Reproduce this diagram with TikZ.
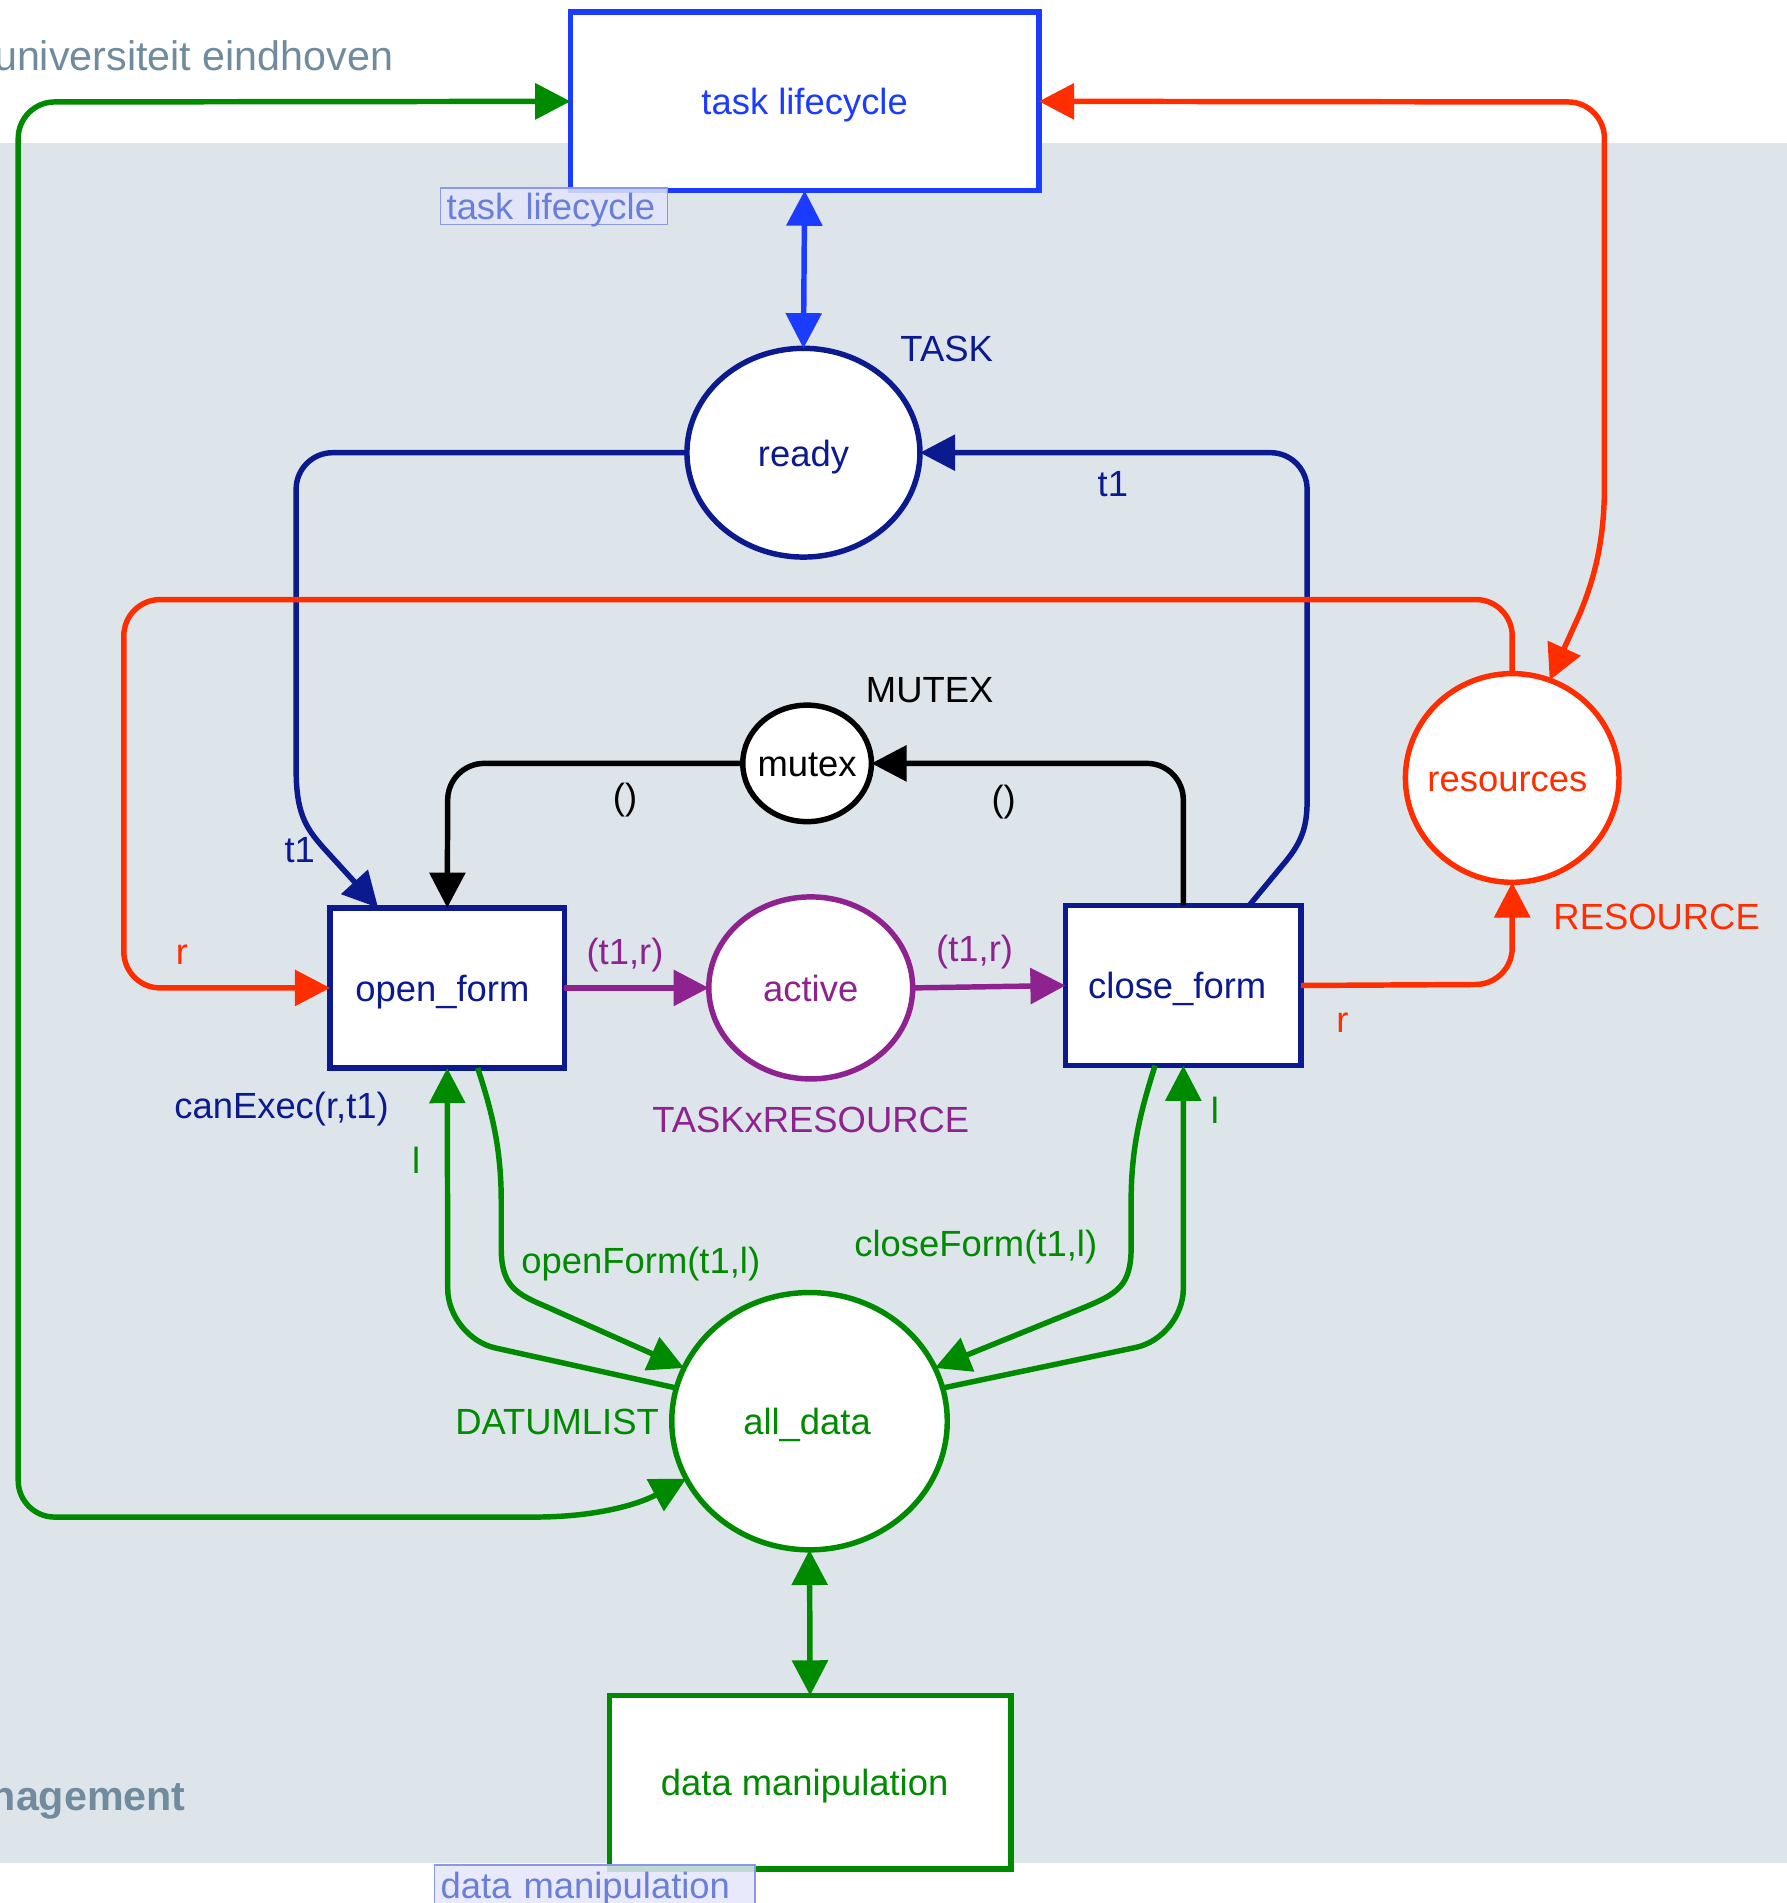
\documentclass[tikz,border=0pt]{standalone}
\usepackage{fontspec}
\setmainfont{Liberation Sans}
\usetikzlibrary{shapes.geometric,arrows.meta,calc}

\definecolor{bggray}{HTML}{DDE5EB}
\definecolor{tlblue}{HTML}{1B3BFF}
\definecolor{navy}{HTML}{0B1A8E}
\definecolor{redc}{HTML}{FF2E00}
\definecolor{greenc}{HTML}{008A00}
\definecolor{purp}{HTML}{8E2390}
\definecolor{titlec}{HTML}{6F8B9D}
\definecolor{tagfill}{HTML}{E4E6FA}
\definecolor{tagdraw}{HTML}{8A98E8}
\definecolor{tagtext}{HTML}{6A7FD9}

\newcommand\labfont{\fontsize{30}{36}\selectfont}
% place text that does not enlarge the ellipse around it
\newcommand\ptext[2][0pt]{\makebox[0pt]{\kern#1#2}}

\begin{document}
\begin{tikzpicture}[x=1pt,y=-1pt,
  every node/.style={font=\labfont, inner sep=0pt, outer sep=0pt,
                     text height=25pt, text depth=3pt},
  >={Triangle[length=29pt,width=29pt]},
  pnode/.style={ellipse, draw, fill=white, line width=4.5pt},
  tnode/.style={rectangle, draw, fill=white, line width=4.5pt},
  conn/.style={line width=4.5pt, line join=round, rounded corners=30pt},
  smooth conn/.style={line width=4.5pt, line join=round, sharp corners},
  tagbox/.style={rectangle, draw=tagdraw, fill=tagfill, fill opacity=0.85,
                 text opacity=1, text=tagtext, line width=1.5pt, align=left,
                 minimum height=30pt, inner xsep=5pt, anchor=west}
]
% page frame and shaded panel
\useasboundingbox (0,0) rectangle (1472,1568);
\fill[white] (0,0) rectangle (1472,1568);
\fill[bggray] (0,118) rectangle (1472,1535);

% header and footer text
\node[anchor=base east, text=titlec, font=\fontsize{34}{40}\selectfont,
      text height=, text depth=]
  (hdr) at (324,58) {universiteit eindhoven};
\node[anchor=base east, text=titlec, font=\fontsize{34}{40}\selectfont\bfseries,
      text height=, text depth=]
  (ftr) at (153,1492) {nagement};

% transitions
\node[tnode, draw=tlblue, text=tlblue, minimum width=386pt, minimum height=147pt]
  (tl) at (663,83.5) {task lifecycle};
\node[tnode, draw=navy, text=navy, minimum width=193pt, minimum height=132pt]
  (open) at (368.5,814) {open\_form\kern8pt};
\node[tnode, draw=navy, text=navy, minimum width=194pt, minimum height=132pt]
  (close) at (975,812) {close\_form\kern10pt};
\node[tnode, draw=greenc, text=greenc, minimum width=331pt, minimum height=143pt]
  (dm) at (667.5,1468.5) {data manipulation\kern9pt};

% places
\node[pnode, draw=navy, text=navy, minimum width=192pt, minimum height=172pt]
  (ready) at (662,373) {\ptext{ready}};
\node[pnode, draw=black, text=black, minimum width=106pt, minimum height=96pt]
  (mutex) at (665,629) {\ptext{mutex}};
\node[pnode, draw=purp, text=purp, minimum width=168pt, minimum height=150pt]
  (active) at (668,814) {\ptext{active}};
\node[pnode, draw=redc, text=redc, minimum width=176pt, minimum height=172pt]
  (res) at (1246,641) {\ptext[-8pt]{resources}};
\node[pnode, draw=greenc, text=greenc, minimum width=227pt, minimum height=212pt]
  (alldata) at (667,1171) {\ptext[-4pt]{all\_data}};

% points on transition borders
\coordinate (openT1) at ($(open.north west)!0.205!(open.north east)$);
\coordinate (closeT1) at ($(close.north west)!0.78!(close.north east)$);
\coordinate (openB) at ($(open.south west)!0.63!(open.south east)$);
\coordinate (closeB) at ($(close.south west)!0.38!(close.south east)$);

% task lifecycle links
\draw[conn, draw=tlblue, <->] (tl.south) -- (ready.north);
\draw[smooth conn, draw=greenc, <->] (tl.west) -- (45,84)
  .. controls (28.5,84) and (15,97.5) .. (15,114) -- (15,1220)
  .. controls (15,1236.5) and (28.5,1250) .. (45,1250) -- (440,1250)
  .. controls (490,1250) and (525,1240) .. (alldata.205);
\draw[smooth conn, draw=redc, <->] (tl.east) -- (1292,84)
  .. controls (1308.5,84) and (1322,97.5) .. (1322,114) -- (1322,400)
  .. controls (1322,450) and (1312,480) .. (1302,505) -- (res.69);

% task token flow
\draw[smooth conn, draw=navy, ->] (ready.west) -- (274,373)
  .. controls (257.5,373) and (244,386.5) .. (244,403) -- (244,634)
  .. controls (244,670) and (252,682) .. (266,698) -- (openT1);
\draw[smooth conn, draw=navy, ->] (closeT1) -- (1060,709)
  .. controls (1072,694) and (1077,682) .. (1077,660) -- (1077,403)
  .. controls (1077,386.5) and (1063.5,373) .. (1047,373) -- (ready.east);

% mutex
\draw[conn, draw=black, ->] (mutex.west) -- (369,629) -- (open.north);
\draw[conn, draw=black, ->] (close.north) -- (975,629) -- (mutex.east);

% resources
\draw[conn, draw=redc, ->] (res.north) -- (1246,494) -- (102,494) -- (102,814) -- (open.west);
\draw[conn, draw=redc, ->] (close.east) -- (1246,811) -- (res.south);

% active
\draw[conn, draw=purp, ->] (open.east) -- (active.west);
\draw[conn, draw=purp, ->] (active.east) -- (close.west);

% data
\draw[conn, draw=greenc, <->] (alldata.south) -- (dm.north);
\draw[conn, draw=greenc, ->, rounded corners=40pt] (alldata.166) -- (369,1102) -- (open.south);
\draw[conn, draw=greenc, ->, rounded corners=40pt] (alldata.14) -- (975,1102) -- (close.south);
\draw[smooth conn, draw=greenc, ->] (openB) .. controls (405,915) and (413,945) .. (413,990)
  -- (413,1028) .. controls (413,1060) and (425,1066) .. (451,1077) -- (alldata.157);
\draw[smooth conn, draw=greenc, ->] (closeB) .. controls (940,915) and (932,945) .. (932,990)
  -- (932,1028) .. controls (932,1060) and (920,1066) .. (894,1077) -- (alldata.23);

% inscriptions
\node[text=navy] (lTask) at (780,287) {TASK};
\node[text=navy] (lT1a) at (917,398) {t1};
\node[text=navy] (lT1b) at (247,700) {t1};
\node[text=black] (lMutex) at (766,568) {MUTEX};
\node[text=black] (lU1) at (515,656) {()};
\node[text=black] (lU2) at (827,658) {()};
\node[text=redc] (lR1) at (150,784) {r};
\node[text=redc] (lR2) at (1106,840) {r};
\node[text=redc] (lRes) at (1365,755) {RESOURCE};
\node[text=purp] (lP1) at (515,784) {(t1,r)};
\node[text=purp] (lP2) at (803,781) {(t1,r)};
\node[text=purp] (lTR) at (668,922) {TASKxRESOURCE};
\node[text=navy] (lGuard) at (232,911) {canExec(r,t1)};
\node[text=greenc] (lL1) at (343,956) {l};
\node[text=greenc] (lL2) at (1001,915) {l};
\node[text=greenc] (lOF) at (528,1038) {openForm(t1,l)};
\node[text=greenc] (lCF) at (804,1024) {closeForm(t1,l)};
\node[text=greenc] (lDL) at (459,1171) {DATUMLIST};

% subpage tags
\node[tagbox, text width=177pt] (tagTL) at (363,170) {task lifecycle};
\node[tagbox, text width=254pt, minimum height=32pt] (tagDM) at (358,1553) {data manipulation};
\end{tikzpicture}
\end{document}
